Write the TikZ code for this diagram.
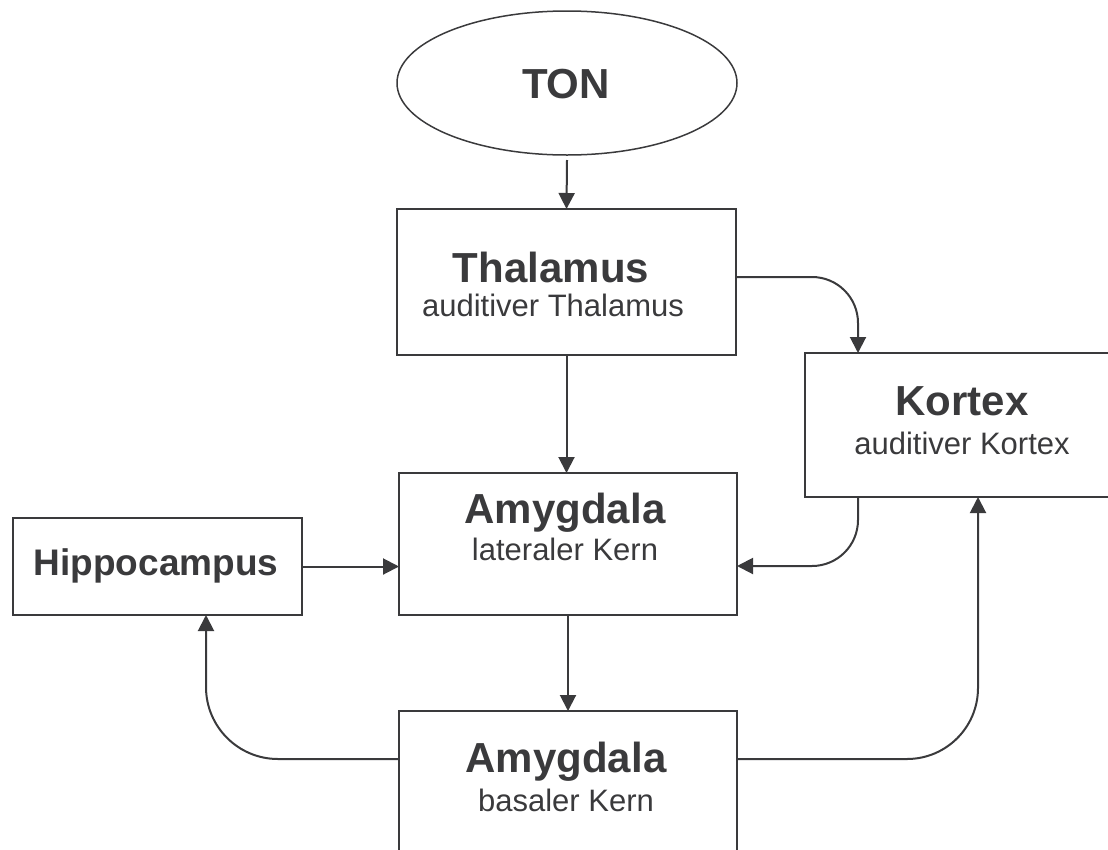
\documentclass[tikz,border=0pt]{standalone}
\usepackage{fontspec}
\setmainfont{Liberation Sans}
\usetikzlibrary{arrows.meta,shapes.geometric}
\definecolor{ink}{RGB}{58,58,60}
\tikzset{
  box/.style={draw=ink, line width=2pt, rectangle, outer sep=0pt, inner sep=0pt},
  title/.style={text=ink, anchor=base, inner sep=0pt, font=\fontsize{42}{50}\selectfont\bfseries},
  small/.style={text=ink, anchor=base, inner sep=0pt, font=\fontsize{31}{37}\selectfont},
  arr/.style={draw=ink, line width=2pt, -{Triangle[length=16pt,width=16pt]}},
}
\begin{document}
\begin{tikzpicture}[x=1pt,y=-1pt]
  \useasboundingbox (0,0) rectangle (1108,849);
  \clip (0,0) rectangle (1108,849);

  % boxes
  \node[draw=ink, line width=1.5pt, ellipse, outer sep=0pt, inner sep=0pt,
        minimum width=340pt, minimum height=144pt] (ton) at (567,83) {};
  \node[box, minimum width=339pt, minimum height=146pt] (thal) at (566.5,282) {};
  \node[box, minimum width=314pt, minimum height=144pt] (kort) at (962,425) {};
  \node[box, minimum width=338pt, minimum height=142pt] (lat) at (568,544) {};
  \node[box, minimum width=289pt, minimum height=97pt] (hipp) at (157.5,566.5) {};
  \node[box, minimum width=338pt, minimum height=144pt] (bas) at (568,783) {};

  % labels
  \node[title] (tonT) at (566,98) {TON};
  \node[title] (thalT) at (551,282) {Thalamus};
  \node[small] (thalS) at (553,316) {auditiver Thalamus};
  \node[title] (kortT) at (962,415) {Kortex};
  \node[small] (kortS) at (962,454) {auditiver Kortex};
  \node[title] (latT) at (565,523) {Amygdala};
  \node[small] (latS) at (565,560) {lateraler Kern};
  \node[title, font=\fontsize{37}{44}\selectfont\bfseries] (hippT) at (156,575) {Hippocampus};
  \node[title] (basT) at (566,772) {Amygdala};
  \node[small] (basS) at (566,811) {basaler Kern};

  % connectors
  \draw[arr] ([yshift=-5pt]ton.south) -- (thal.north);
  \draw[arr] (thal.south) -- (thal.south |- lat.north);
  \draw[arr] (lat.south) -- (bas.north);
  \draw[arr] (hipp.east) -- (hipp.east -| lat.west);
  \draw[arr, rounded corners=46pt] ([yshift=5pt]thal.east) -| ([xshift=53pt]kort.north west);
  \draw[arr, rounded corners=46pt] ([xshift=53pt]kort.south west) |- ([yshift=-22pt]lat.east);
  \draw[arr, rounded corners=72pt] ([yshift=24pt]bas.west) -| ([xshift=48.5pt]hipp.south);
  \draw[arr, rounded corners=71pt] ([yshift=24pt]bas.east) -| ([xshift=16pt]kort.south);
\end{tikzpicture}
\end{document}
